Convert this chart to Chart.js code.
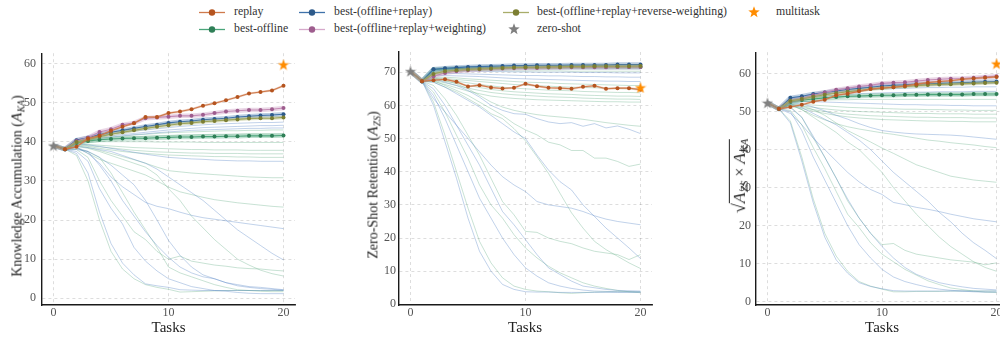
<!DOCTYPE html>
<html><head><meta charset="utf-8">
<script src="https://cdn.jsdelivr.net/npm/chart.js@4.4.1/dist/chart.umd.min.js"></script>
<style>
body{margin:0;width:1000px;height:339px;overflow:hidden;position:relative;background:#fff;font-family:'Liberation Serif','DejaVu Serif',serif;color:#222}
canvas{position:absolute;top:40px}
.lg{position:absolute;font-family:'Liberation Serif',serif;font-size:11.8px;white-space:nowrap;line-height:1;transform:translateY(-50%);color:#333}
.yt{position:absolute;white-space:nowrap;font-size:14px;line-height:1;transform:translate(-50%,-50%) rotate(-90deg);color:#222}
.xt{position:absolute;font-size:15px;line-height:1;transform:translate(-50%,-50%);color:#222}
.cal{font-family:'Liberation Serif',serif;font-style:italic;font-size:108%}
sub{font-size:68%;vertical-align:-0.3em;font-style:italic;line-height:0;margin-left:0.5px}
svg{position:absolute}
</style></head>
<body>
<!-- legend -->
<svg style="left:199px;top:7.8px" width="27" height="9"><line x1="0" y1="4.5" x2="26" y2="4.5" stroke="#cf7a4c" stroke-width="1.3"/><circle cx="13" cy="4.5" r="3.2" fill="#b5541f"/></svg>
<div class="lg" style="left:234px;top:12.3px">replay</div>
<svg style="left:199px;top:24.8px" width="27" height="9"><line x1="0" y1="4.5" x2="26" y2="4.5" stroke="#4aa57a" stroke-width="1.3"/><circle cx="13" cy="4.5" r="3.2" fill="#2f7f57"/></svg>
<div class="lg" style="left:234px;top:29.3px">best-offline</div>
<svg style="left:299px;top:7.8px" width="27" height="9"><line x1="0" y1="4.5" x2="26" y2="4.5" stroke="#3f72aa" stroke-width="1.3"/><circle cx="13" cy="4.5" r="3.2" fill="#2d5a8a"/></svg>
<div class="lg" style="left:334px;top:12.3px">best-(offline+replay)</div>
<svg style="left:299px;top:24.8px" width="27" height="9"><line x1="0" y1="4.5" x2="26" y2="4.5" stroke="#d6a9cb" stroke-width="1.3"/><circle cx="13" cy="4.5" r="3.2" fill="#9e5d8e"/></svg>
<div class="lg" style="left:334px;top:29.3px">best-(offline+replay+weighting)</div>
<svg style="left:503px;top:7.8px" width="27" height="9"><line x1="0" y1="4.5" x2="26" y2="4.5" stroke="#a9ad6a" stroke-width="1.3"/><circle cx="13" cy="4.5" r="3.2" fill="#7c7e32"/></svg>
<div class="lg" style="left:537px;top:12.3px">best-(offline+replay+reverse-weighting)</div>
<svg style="left:508px;top:23.3px" width="12" height="12"><polygon id="sz" fill="#7f7f7f" points=""/></svg>
<div class="lg" style="left:537px;top:29.3px">zero-shot</div>
<svg style="left:748px;top:6.3px" width="12" height="12"><polygon id="sm" fill="#ff8c00" points=""/></svg>
<div class="lg" style="left:776px;top:12.3px">multitask</div>

<canvas id="c1" width="310" height="299" style="left:0px"></canvas>
<canvas id="c2" width="330" height="299" style="left:340px"></canvas>
<canvas id="c3" width="320" height="299" style="left:700px"></canvas>

<div class="yt" style="left:17px;top:186px">Knowledge Accumulation (<span class="cal">A</span><sub>KA</sub>)</div>
<div class="yt" style="left:373px;top:185px">Zero-Shot Retention (<span class="cal">A</span><sub>ZS</sub>)</div>
<div class="yt" style="left:739px;top:176px;font-size:16px"><span style="font-size:18px">√</span><span style="border-top:1.2px solid #222;padding-top:1px"><span class="cal">A</span><sub>ZS</sub> × <span class="cal">A</span><sub>KA</sub></span></div>
<div class="xt" style="left:168.5px;top:327px">Tasks</div>
<div class="xt" style="left:525px;top:327px">Tasks</div>
<div class="xt" style="left:882px;top:327px">Tasks</div>

<script>
// ---------------- data ----------------
const tasks = [0,1,2,3,4,5,6,7,8,9,10,11,12,13,14,15,16,17,18,19,20];
const xTicks = [0,10,20];
const kaTicks = [0,10,20,30,40,50,60];
const zsTicks = [0,10,20,30,40,50,60,70];
const geoTicks = [0,10,20,30,40,50,60];

// Knowledge accumulation
const kaReplay        = [39,38.1,38.7,40.8,41.5,42.8,43.8,44.7,46.3,46.3,47.3,47.7,48.3,49.2,49.8,50.6,51.4,52.3,52.7,53.1,54.3];
const kaWeighting     = [39,38.1,40.2,41.0,42.5,43.2,44.3,44.8,46.0,46.2,46.4,46.6,46.6,46.9,47.3,47.7,47.9,48.1,48.1,48.3,48.6];
const kaOfflineReplay = [39,38.1,40.4,41.0,41.8,42.4,42.9,43.4,43.9,44.3,44.8,45.1,45.3,45.6,45.8,46.0,46.3,46.5,46.7,46.8,47.0];
const kaReverse       = [39,38.1,39.9,40.5,41.3,41.9,42.4,42.9,43.4,43.8,44.2,44.6,44.8,45.1,45.3,45.5,45.7,45.9,46.0,46.0,46.2];
const kaOffline       = [39,38.1,39.7,40.2,40.5,40.7,40.8,40.9,40.9,41.0,41.1,41.2,41.2,41.3,41.3,41.4,41.4,41.5,41.5,41.5,41.6];
const kaZeroShot = 39;
const kaMultitask = 59.7;
const kaBlue = [
 [39,38.1,40.5,41,41.5,42,42.3,42.7,43,43.3,43.6,43.9,44.1,44.3,44.5,44.6,44.7,44.8,44.9,44.9,45.0],
 [39,38.1,40.3,40.7,41.2,41.5,41.8,42.1,42.4,42.7,43,43.2,43.4,43.6,43.7,43.8,43.9,44,44.1,44.1,44.2],
 [39,38.1,40.2,40.5,40.9,41.2,41.5,41.8,42,42.3,42.5,42.7,42.9,43,43.1,43.2,43.3,43.4,43.4,43.5,43.5],
 [39,38.1,39.5,39.2,38.8,38.3,37.8,37.3,36.8,36.4,36,35.8,35.6,35.5,35.3,35.2,35.1,35.1,35,35,35],
 [39,38.1,37,32,22,14,9,6,3.7,3.2,2.8,2.2,2.1,2,2,2,2,2,2,2,2],
 [39,38.1,37.5,35,28,23,19,13,9.5,7,5,4,3,2.5,2,1.8,1.5,1.3,1.2,1.2,1.2],
 [39,38.1,38,37.5,34,30,25,21,17,13.5,10.5,8,6.5,5.5,5,4,3.5,3,2.8,2.5,2.2],
 [39,38.1,38.5,37,34.5,31,28.5,26.5,24.5,23.5,22.9,22,21.2,20.6,20.2,19.8,19.4,19,18.6,18.2,17.8],
 [39,38.1,38.8,38.5,38,37.5,36.5,35.5,34.5,33,31,29,27,25,22.5,20,17.5,15.5,13.5,11.5,9.8],
 [39,38.1,38.5,37.5,36,34,31.5,29,25,20,14.8,11,8,6,5,4,3.2,2.8,2.5,2.3,2.1]
];
const kaGreen = [
 [39,38.1,40,40.4,40.8,41.1,41.4,41.7,41.9,42.1,42.3,42.4,42.5,42.6,42.7,42.8,42.8,42.9,42.9,43,43],
 [39,38.1,39.8,40.2,40.5,40.8,41,41.2,41.4,41.5,41.6,41.7,41.8,41.8,41.9,41.9,42,42,42,42,42],
 [39,38.1,39.6,39.8,40,40,40,40,40,39.9,39.9,39.9,39.9,39.8,39.8,39.8,39.8,39.8,39.8,39.8,39.8],
 [39,38.1,39.4,39.3,39.1,38.9,38.7,38.5,38.4,38.3,38.2,38.1,38,38,37.9,37.9,37.9,37.8,37.8,37.8,37.8],
 [39,38.1,39.3,39,38.7,38.4,38.1,37.8,37.6,37.4,37.3,37.2,37.1,37.1,37,37,37,36.9,36.9,36.9,36.9],
 [39,38.1,39.2,38.8,38.3,37.9,37.5,37.2,37,36.8,36.6,36.5,36.4,36.3,36.2,36.2,36.1,36.1,36,36,36],
 [39,38.1,39,38.5,37.8,37,36.2,35.4,34.5,33.5,32.6,32.3,32,31.8,31.6,31.4,31.2,31,30.9,30.8,30.8],
 [39,38.1,36.5,30,20,12,7.5,5,3.5,2.8,2.3,1.6,1.7,1.8,1.9,2,2,2,2,2,2],
 [39,38.1,38,36,30,25,21,17,15,12,10,10.8,9.5,9,8.5,8.2,7.8,7.6,7.5,7.2,7],
 [39,38.1,38.2,37.5,36,32,27,22,17.5,13,8,6.5,5.5,4.5,3.5,2.8,2.2,2,1.8,1.7,1.7],
 [39,38.1,38.6,37,35.5,34.5,33.5,32.5,31.5,30,28.4,27.2,26.5,25.8,25.2,24.8,24.4,24.1,23.8,23.5,23.3],
 [39,38.1,38.8,38.3,37.5,36.5,35.5,34.5,33.5,31.5,28,25,21,18,15,12.5,10,8.5,7.2,6.3,5.7]
];

// Zero-shot retention
const zsReplay        = [70.3,67.3,67.6,67.9,67.1,65.7,66.1,65.4,65.1,65.3,66.5,65.8,65.3,65.2,65,65.6,65.9,65,65.2,65.2,64.7];
const zsWeighting     = [70.3,67.3,68.8,69.8,70.3,70.6,70.8,71,71.1,71.2,71.3,71.3,71.4,71.4,71.5,71.5,71.5,71.5,71.6,71.6,71.6];
const zsOfflineReplay = [70.3,67.3,70.9,71.2,71.4,71.6,71.7,71.8,71.9,72,72,72.1,72.1,72.1,72.2,72.2,72.2,72.2,72.3,72.3,72.3];
const zsReverse       = [70.3,67.3,69.5,70.3,70.6,70.8,71,71.1,71.3,71.4,71.5,71.5,71.6,71.6,71.7,71.7,71.8,71.8,71.8,71.8,71.9];
const zsOffline       = [70.3,67.3,70.8,71,71.1,71.2,71.3,71.4,71.4,71.5,71.5,71.5,71.5,71.6,71.6,71.6,71.6,71.6,71.6,71.6,71.6];
const zsZeroShot = 70.3;
const zsMultitask = 65.4;
const zsBlue = [
 [70.3,67.3,60,49,38,26,16,10,6,4.5,3.8,3.7,3.7,3.6,3.6,3.6,3.6,3.6,3.6,3.6,3.6],
 [70.3,67.3,63,56,48,40,32,26,20,15,11,8.5,6.5,5.5,4.8,4.3,4,3.9,3.8,3.8,3.8],
 [70.3,67.3,65,60,54,48,42,35,28,24,19.5,15,11,9,7,5.5,5,4.5,4.2,4.1,4],
 [70.3,67.3,62,58,54,50,46,42,38.5,36,34,31,30,29.5,29,28,26.7,25.7,25,24.5,24],
 [70.3,67.3,67,65.5,63.5,61.5,59.5,57,54.5,52,50,45,40.5,37,34.5,30,26.5,23,20,17,13.8],
 [70.3,67.3,68,67,66,64.5,62.5,60,58.5,57.5,57.3,56,55,54.5,54.8,53.7,54.5,53.2,53.8,52.8,51.5],
 [70.3,67.3,70.3,70.6,70.8,70.9,71,71,71,71,71,71,71,71,71,71,71,71,71,71,71],
 [70.3,67.3,69.8,70.2,70.3,70.3,70.3,70.2,70.2,70.1,70.1,70,70,70,70,69.9,69.9,69.9,69.8,69.8,69.8],
 [70.3,67.3,69.5,69.6,69.6,69.5,69.4,69.3,69.2,69.1,69,69,68.9,68.9,68.8,68.7,68.7,68.6,68.6,68.5,68.5],
 [70.3,67.3,69,69,68.9,68.8,68.7,68.5,68.3,68.1,68,67.9,67.8,67.7,67.6,67.5,67.4,67.3,67.3,67.2,67.2]
];
const zsGreen = [
 [70.3,67.3,61,51,40,29,19,12.5,8,5.5,4.5,4,3.8,3.5,3.3,3.5,3.7,3.8,3.8,3.8,3.8],
 [70.3,67.3,64,58,51,44,36,30,26,21,17,14,11.5,9.5,8,6.5,5.5,4.8,4.2,3.8,3.5],
 [70.3,67.3,66,62,57,51,45,38,31,27,22,21.7,20,19,18.3,17,16,15.5,15,13.5,15],
 [70.3,67.3,67,65.5,64,62,60,57.5,56,53,49.3,44.5,39.5,33.5,27.6,23,19,16.5,14.5,12.5,10.8],
 [70.3,67.3,67.5,66,64.5,63,61,59,57,54.5,52.6,51.1,48.9,48.1,46.4,46.4,44.1,44.1,43.1,41.6,42.3],
 [70.3,67.3,68.3,67.5,66.5,65,63,61,59.5,58.5,57.8,57.2,56.8,56.5,56.2,55.8,55.3,54.8,54.4,54,53.7],
 [70.3,67.3,70,70.3,70.5,70.5,70.5,70.5,70.5,70.4,70.4,70.4,70.4,70.4,70.3,70.3,70.3,70.3,70.3,70.3,70.3],
 [70.3,67.3,68.5,68.5,68.3,68,67.8,67.6,67.4,67.2,67,66.9,66.8,66.6,66.5,66.4,66.3,66.2,66.1,66,66],
 [70.3,67.3,68.3,68.1,67.8,67.5,67.2,66.9,66.6,66.3,66.1,65.9,65.8,65.6,65.5,65.4,65.3,65.2,65.1,65,65],
 [70.3,67.3,68,67.8,67.3,66.8,66.3,65.9,65.5,65.2,65,64.8,64.6,64.5,64.4,64.2,64.1,64,63.9,63.9,63.8],
 [70.3,67.3,67.8,67.3,66.7,66,65.4,64.8,64.4,64.1,63.9,63.7,63.5,63.4,63.3,63.1,63,62.9,62.8,62.8,62.7],
 [70.3,67.3,67.5,66.8,66,65.2,64.5,63.9,63.5,63.2,63,62.8,62.6,62.5,62.4,62.2,62.1,62,61.9,61.9,61.8],
 [70.3,67.3,67.2,66.3,65.3,64.3,63.5,62.8,62.4,62.1,61.9,61.7,61.6,61.5,61.4,61.3,61.2,61.1,61.1,61,61]
];

// Geometric mean
const geoReplay        = [52.3,50.7,51.2,51.8,52.6,53.1,54.3,54.7,55.3,55.9,56.2,56.4,56.7,57.2,57.6,57.9,58.1,58.5,58.7,58.9,59.1];
const geoWeighting     = [52.3,50.7,52.8,53.4,54.3,55,55.7,56.1,56.6,56.9,57.4,57.6,57.7,58,58.3,58.5,58.6,58.7,58.9,59.1,59.3];
const geoOfflineReplay = [52.3,50.7,53.6,54,54.6,55,55.4,55.8,56.1,56.4,56.7,56.9,57,57.2,57.3,57.4,57.5,57.6,57.7,57.8,57.9];
const geoReverse       = [52.3,50.7,52.8,53.3,53.9,54.4,54.8,55.2,55.5,55.9,56.1,56.4,56.6,56.8,57,57.1,57.2,57.3,57.4,57.5,57.6];
const geoOffline       = [52.3,50.7,52.5,53,53.3,53.6,53.8,54,54.1,54.2,54.3,54.3,54.4,54.4,54.5,54.5,54.5,54.5,54.6,54.6,54.6];
const geoZeroShot = 52.3;
const geoMultitask = 62.6;
const geoBlue = [
 [52.3,50.7,47,37,26,17,11,7.5,5,4,3.4,2.9,2.8,2.8,2.8,2.8,2.8,2.8,2.8,2.8,2.8],
 [52.3,50.7,50,45,38,32,26,20,15,11.5,8.5,6.5,5.3,4.5,3.8,3.3,3,2.8,2.6,2.5,2.5],
 [52.3,50.7,51,48.5,43.5,38,32.5,27,22,18,14.5,11.5,9,7.2,6,5,4.4,3.9,3.5,3.3,3.1],
 [52.3,50.7,49.5,46.5,43,40,37,34,31.5,29.5,28.2,26.1,25.5,24.8,24.3,23.7,23,22.4,21.8,21.4,21],
 [52.3,50.7,52,51,49.5,48,46.5,44.5,42.5,40,37,34,31.5,29,26.5,23.5,21,18,15.5,13.5,11.3],
 [52.3,50.7,52.3,52,51.2,50.2,49,48,46.8,45.8,45,44.6,44.3,44.1,44,43.9,43.8,43.6,43.3,43,42.7],
 [52.3,50.7,53.3,53.7,54.2,54.6,55,55.3,55.5,55.7,55.9,56,56.1,56.2,56.3,56.3,56.4,56.4,56.5,56.5,56.5],
 [52.3,50.7,53,53.3,53.7,54,54.3,54.5,54.7,54.8,54.9,55,55,55.1,55.1,55.2,55.2,55.2,55.3,55.3,55.3],
 [52.3,50.7,52.5,52.6,52.6,52.5,52.4,52.3,52.2,52.1,52,51.9,51.8,51.8,51.7,51.7,51.6,51.6,51.5,51.5,51.5]
];
const geoGreen = [
 [52.3,50.7,47.5,38,27,18,12,8,5.3,4.1,3.3,2.6,2.6,2.7,2.7,2.7,2.8,2.8,2.8,2.8,2.8],
 [52.3,50.7,50.3,46.5,40.5,35,29,23,19.5,15.5,12.5,10.5,8.5,7,5.5,4.5,3.6,3.2,2.8,2.5,2.4],
 [52.3,50.7,51.3,48.5,43,38,32.5,26.5,22,18,15,15.3,13.5,12.5,12,11.5,11,10.7,10.4,9.7,10.2],
 [52.3,50.7,51.8,50.5,48.5,46.5,44.5,42,40,37,34,30,26.5,23,20,17,14.5,12.5,10.5,9,8],
 [52.3,50.7,52,51.5,50.5,49,47,45,43.5,42,40.4,39,37.5,36,35,34,33,32.5,32,31.7,31.4],
 [52.3,50.7,51.8,50.5,49,47.8,46.8,46,45.4,44.9,44.4,44,43.5,43,42.5,42.2,41.8,41.5,41.2,40.8,40.5],
 [52.3,50.7,52.6,53,53.3,53.6,53.8,53.9,54,54,54.1,54.1,54.1,54.2,54.2,54.2,54.2,54.2,54.2,54.2,54.2],
 [52.3,50.7,52.3,52.6,52.8,53,53.1,53.1,53.2,53.2,53.2,53.2,53.2,53.2,53.2,53.2,53.2,53.2,53.2,53.2,53.2],
 [52.3,50.7,52,51.9,51.7,51.5,51.3,51.1,51,50.9,50.8,50.7,50.6,50.6,50.5,50.5,50.4,50.4,50.3,50.3,50.3],
 [52.3,50.7,51.8,51.5,51.1,50.7,50.4,50.2,50,49.9,49.8,49.7,49.6,49.5,49.5,49.4,49.4,49.4,49.3,49.3,49.3],
 [52.3,50.7,51.6,51.1,50.5,50,49.6,49.3,49.1,48.9,48.8,48.7,48.6,48.5,48.5,48.4,48.4,48.4,48.3,48.3,48.3],
 [52.3,50.7,51.4,50.8,50.1,49.5,49,48.6,48.3,48.1,47.9,47.8,47.7,47.6,47.5,47.5,47.4,47.4,47.3,47.3,47.3]
];

// ---------------- styles ----------------
const C = {
  replay:    {line:'#cf7a4c', mark:'#b5541f', band:2.2},
  offline:   {line:'#4aa57a', mark:'#2f7f57', band:4.5},
  offRep:    {line:'#3f72aa', mark:'#2d5a8a', band:4.5},
  weighting: {line:'#c48bb6', mark:'#9e5d8e', band:4.5},
  reverse:   {line:'#9fa55a', mark:'#7c7e32', band:3.5}
};
const bgBlue = 'rgba(80,130,195,0.40)';
const bgGreen = 'rgba(100,175,135,0.40)';

function starPts(cx, cy, R, r){
  const p=[];
  for(let i=0;i<10;i++){
    const a=-Math.PI/2+i*Math.PI/5, rr=i%2?r:R;
    p.push((cx+rr*Math.cos(a)).toFixed(2)+','+(cy+rr*Math.sin(a)).toFixed(2));
  }
  return p.join(' ');
}
document.getElementById('sz').setAttribute('points', starPts(6,6.3,6,2.5));
document.getElementById('sm').setAttribute('points', starPts(6,6.3,6,2.5));

function starImg(color, size){
  const c=document.createElement('canvas'); c.width=size; c.height=size;
  const g=c.getContext('2d'); g.fillStyle=color; g.beginPath();
  for(let i=0;i<10;i++){
    const a=-Math.PI/2+i*Math.PI/5, rr=i%2?size*0.2:size*0.5;
    const x=size/2+rr*Math.cos(a), y=size/2+rr*Math.sin(a)+size*0.05;
    i?g.lineTo(x,y):g.moveTo(x,y);
  }
  g.closePath(); g.fill(); return c;
}
const grayStar = starImg('#808080', 12);
const orangeStar = starImg('#ff8c00', 12);

function pts(arr){ return arr.map((v,i)=>({x:tasks[i], y:v})); }
function hexA(h,a){ const n=parseInt(h.slice(1),16); return `rgba(${n>>16},${(n>>8)&255},${n&255},${a})`; }

function buildDatasets(key, blue, green, zero, multi){
  const ds=[];
  blue.forEach(a=>ds.push({data:pts(a), borderColor:bgBlue, borderWidth:0.9, pointRadius:0, order:10}));
  green.forEach(a=>ds.push({data:pts(a), borderColor:bgGreen, borderWidth:0.9, pointRadius:0, order:10}));
  const keys=[['offline',key.offline,4],['offRep',key.offRep,3],['reverse',key.reverse,2],['weighting',key.weighting,2.5],['replay',key.replay,1]];
  keys.forEach(([k,arr,o])=>{
    ds.push({data:pts(arr), borderColor:hexA(C[k].line,0.35), borderWidth:C[k].band, pointRadius:0, order:o+0.5});
    ds.push({data:pts(arr).slice(1), borderColor:C[k].line, borderWidth:1.1, pointRadius:2.0, pointBackgroundColor:C[k].mark, pointBorderWidth:0, order:o});
  });
  ds.push({data:[{x:0,y:zero}], pointStyle:grayStar, pointRadius:6, showLine:false, order:0});
  ds.push({data:[{x:20,y:multi}], pointStyle:orangeStar, pointRadius:6, showLine:false, order:0});
  return ds;
}

function makeChart(id, o){
  const tickFont={family:"'Liberation Serif','DejaVu Serif',serif", size:12};
  new Chart(document.getElementById(id), {
    type:'line',
    data:{datasets:buildDatasets(o.key,o.blue,o.green,o.zero,o.multi)},
    options:{
      responsive:false, animation:false, devicePixelRatio:1,
      layout:{padding:{top:12, right:o.padRight, left:0, bottom:0}},
      plugins:{legend:{display:false}, tooltip:{enabled:false}},
      elements:{line:{tension:0}},
      scales:{
        x:{type:'linear', min:-1, max:21,
           afterBuildTicks:s=>{s.ticks=xTicks.map(v=>({value:v}));},
           afterFit:s=>{s.height=34;},
           grid:{color:'rgba(0,0,0,0.17)', lineWidth:0.8, drawTicks:false},
           border:{display:true, color:'#1a1a1a', width:1.4, dash:[3,3]},
           ticks:{color:'#555', font:tickFont, padding:1, maxRotation:0}},
        y:{type:'linear', min:o.yMin, max:o.yMax,
           afterBuildTicks:s=>{s.ticks=o.yTicks.map(v=>({value:v}));},
           afterFit:s=>{s.width=o.yWidth;},
           grid:{color:'rgba(0,0,0,0.17)', lineWidth:0.8, drawTicks:false},
           border:{display:true, color:'#1a1a1a', width:1.4, dash:[3,3]},
           ticks:{color:'#555', font:tickFont, padding:o.yPad}}
      }
    }
  });
}

makeChart('c1',{key:{replay:kaReplay,offline:kaOffline,offRep:kaOfflineReplay,weighting:kaWeighting,reverse:kaReverse},
  blue:kaBlue, green:kaGreen, zero:kaZeroShot, multi:kaMultitask,
  yMin:-1.7, yMax:62.6, yTicks:kaTicks, yWidth:42, padRight:15, yPad:6});
makeChart('c2',{key:{replay:zsReplay,offline:zsOffline,offRep:zsOfflineReplay,weighting:zsWeighting,reverse:zsReverse},
  blue:zsBlue, green:zsGreen, zero:zsZeroShot, multi:zsMultitask,
  yMin:-0.2, yMax:76.1, yTicks:zsTicks, yWidth:59, padRight:18, yPad:3});
makeChart('c3',{key:{replay:geoReplay,offline:geoOffline,offRep:geoOfflineReplay,weighting:geoWeighting,reverse:geoReverse},
  blue:geoBlue, green:geoGreen, zero:geoZeroShot, multi:geoMultitask,
  yMin:-0.87, yMax:65.6, yTicks:geoTicks, yWidth:56, padRight:12, yPad:5});
</script>
</body></html>
